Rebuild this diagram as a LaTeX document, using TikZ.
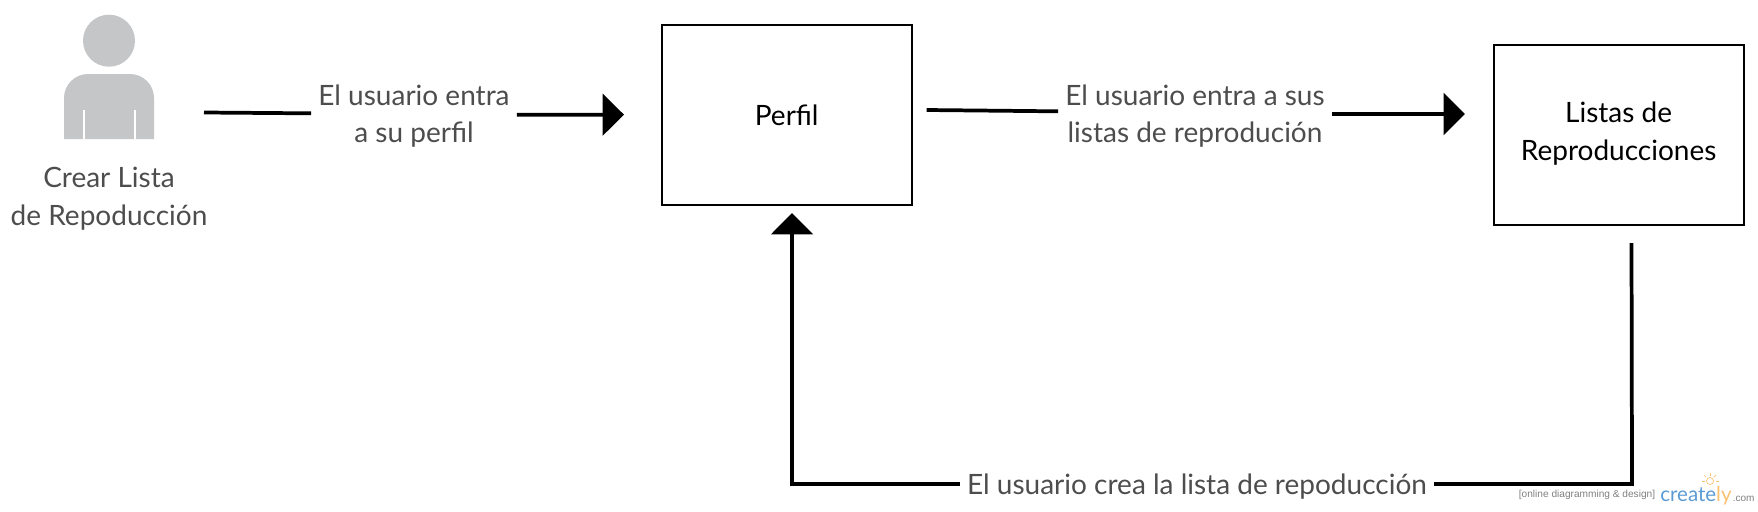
\documentclass[tikz,border=0pt]{standalone}
\usepackage{fontspec}
\setmainfont{Lato}
\newfontfamily\tagfont{Liberation Sans}
\usetikzlibrary{arrows.meta}
\definecolor{labelgray}{HTML}{4D4D4D}
\definecolor{usergray}{HTML}{C5C6C8}
\definecolor{markblue}{HTML}{5B9BD5}
\definecolor{markorange}{HTML}{F9C171}
\tikzset{
  boxnode/.style={draw=black,line width=1.5pt,minimum width=187.5pt,minimum height=135pt,inner sep=0pt,
    align=center,font=\fontsize{21}{28.2}\selectfont},
  flowlabel/.style={text=labelgray,inner xsep=5.25pt,inner ysep=0pt,align=center,
    font=\fontsize{21}{28.2}\selectfont},
  flowline/.style={line width=2.8pt,line join=miter},
  flowarrow/.style={flowline,-{Triangle[length=16pt,width=31pt]}},
  markray/.style={draw=markorange,line width=0.5pt},
}
\begin{document}
\begin{tikzpicture}[x=0.75pt,y=-0.75pt]
  \useasboundingbox (0,0) rectangle (1758,511);
  % user icon
  \fill[usergray] (64,139) -- (64,98) [rounded corners=18pt] -- (64,74) -- (154,74) [sharp corners] -- (154,139) -- cycle;
  \fill[usergray] (109,40.7) circle (26);
  \fill[white] (83,110) rectangle (85,139);
  \fill[white] (133.5,110) rectangle (135.5,139);
  \node[flowlabel] (crear) at (109,198.5) {Crear Lista\\de Repoducción};
  % boxes
  \node[boxnode] (perfil) at (786.7,115) {Perfil};
  \node[boxnode,text depth=6pt] (listas) at (1618.6,135) {Listas de\\Reproducciones};
  % labels
  \node[flowlabel] (labA) at (414,116) {El usuario entra\\a su perfil};
  \node[flowlabel] (labB) at (1195,116) {El usuario entra a sus\\listas de reprodución};
  \node[flowlabel] (labC) at (1197,487) {El usuario crea la lista de repoducción};
  % free ends
  \coordinate (startA) at (204,112.5);
  \coordinate (endA) at (624,114.7);
  \coordinate (startB) at (926.6,110);
  \coordinate (endB) at (1465,114);
  \coordinate (startC) at (1631.5,243);
  \coordinate (turnC) at (1632,484);
  \coordinate (turnD) at (792,484);
  \coordinate (endC) at (792,213);
  \draw[flowline] (startA) to ([yshift=2pt]labA.west);
  \draw[flowarrow] ([yshift=1pt]labA.east) to (endA);
  \draw[flowline] (startB) to ([yshift=3.5pt]labB.west);
  \draw[flowarrow] ([yshift=1.5pt]labB.east) to (endB);
  \draw[flowline] (startC) -- (turnC) -- ([yshift=2.2pt]labC.east);
  \draw[flowarrow] ([yshift=2.2pt]labC.west) -- (turnD) -- (endC);
  % watermark
  \node[text=gray,font=\tagfont\fontsize{7.6}{10}\selectfont,inner sep=0pt] (markA) at (1587,494.5) {[online diagramming \& design]};
  \node[text=markblue,font=\fontsize{15.4}{18}\selectfont,inner sep=0pt,anchor=base west] (markB) at (1660,501) {create\textcolor{markorange}{ly}};
  \node[text=gray,font=\tagfont\fontsize{7.5}{9}\selectfont,inner sep=0pt,anchor=base west] (markC) at (1732.5,501) {.com};
  \draw[markray,fill=white] (1710,481) circle (3.5);
  \foreach \ang in {0,45,90,135,180}
    \draw[markray] (1710,481) ++(\ang:-5.5) -- ++(\ang:-3);
\end{tikzpicture}
\end{document}
